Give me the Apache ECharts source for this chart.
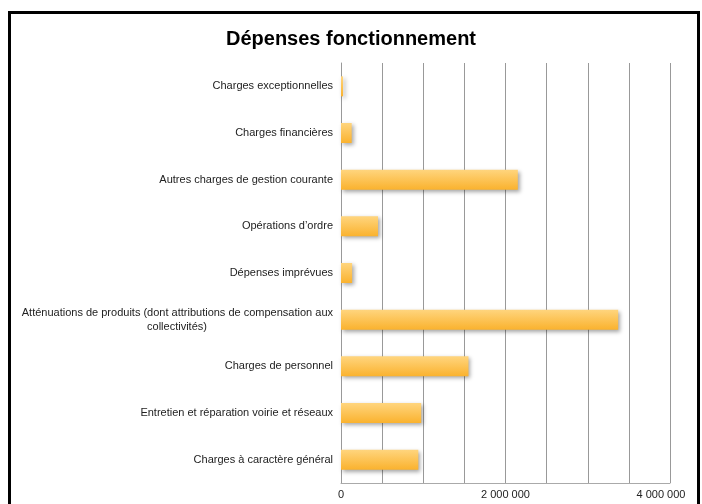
<!DOCTYPE html>
<html><head><meta charset="utf-8">
<script src="https://cdn.jsdelivr.net/npm/echarts@6/dist/echarts.min.js"></script>
<style>
html,body{margin:0;padding:0;background:#fff;}
#frame{position:absolute;left:8px;top:11px;width:692px;height:510px;border:3px solid #000;box-sizing:border-box;}
#chart{position:absolute;left:0;top:0;width:702px;height:504px;}
</style></head>
<body>
<div id="frame"></div>
<div id="chart"></div>
<script>
var titleText = 'Dépenses fonctionnement';
// bottom to top
var categories = [
  'Charges à caractère général',
  'Entretien et réparation voirie et réseaux',
  'Charges de personnel',
  'Atténuations de produits (dont attributions de compensation aux\ncollectivités)',
  'Dépenses imprévues',
  'Opérations d\u2019ordre',
  'Autres charges de gestion courante',
  'Charges financières',
  'Charges exceptionnelles'
];
var values = [940000, 975000, 1550000, 3370000, 135000, 450000, 2150000, 130000, 25000];
var tickLabels = {0: '0', 2000000: '2 000 000', 4000000: '{m|4 000 000}'};

var chart = echarts.init(document.getElementById('chart'), null, {renderer: 'canvas'});
chart.setOption({
  animation: false,
  backgroundColor: 'transparent',
  title: {
    text: titleText, left: 'center', top: 24,
    textStyle: {fontFamily: 'Liberation Sans', fontWeight: 'bold', fontSize: 20, color: '#000'}
  },
  grid: {left: 341, right: 32, top: 63, bottom: 21, containLabel: false},
  xAxis: {
    type: 'value', min: 0, max: 4000000, interval: 500000,
    axisLine: {show: true, lineStyle: {color: '#aaa', width: 1}},
    axisTick: {show: false},
    splitLine: {show: true, lineStyle: {color: '#999', width: 1}},
    axisLabel: {
      margin: 6, fontFamily: 'Liberation Sans', fontSize: 11, color: '#222',
      formatter: function (v) { return tickLabels[v] !== undefined ? tickLabels[v] : ''; },
      rich: {
        m: {fontFamily: 'Liberation Sans', fontSize: 11, color: '#222', padding: [0, 18, 0, 0]}
      }
    }
  },
  yAxis: {
    type: 'category', data: categories,
    axisLine: {show: true, lineStyle: {color: '#999', width: 1}},
    axisTick: {show: false},
    axisLabel: {
      margin: 8, fontFamily: 'Liberation Sans', fontSize: 11, color: '#222', lineHeight: 14,
      formatter: function (v) {
        if (v.indexOf('\n') >= 0) {
          var parts = v.split('\n');
          return '{a|' + parts[0] + '}\n{b|' + parts[1] + '}';
        }
        return v;
      },
      rich: {
        a: {fontFamily: 'Liberation Sans', fontSize: 11, color: '#222', lineHeight: 14},
        b: {fontFamily: 'Liberation Sans', fontSize: 11, color: '#222', lineHeight: 14, width: 312, align: 'center'}
      }
    }
  },
  series: [{
    type: 'bar', data: values, barWidth: 20,
    itemStyle: {
      color: new echarts.graphic.LinearGradient(0, 0, 0, 1, [
        {offset: 0, color: '#FFD57E'},
        {offset: 1, color: '#FAB22E'}
      ]),
      shadowColor: 'rgba(0,0,0,0.35)', shadowBlur: 4, shadowOffsetX: 2, shadowOffsetY: 2
    }
  }]
});
</script>
</body></html>
